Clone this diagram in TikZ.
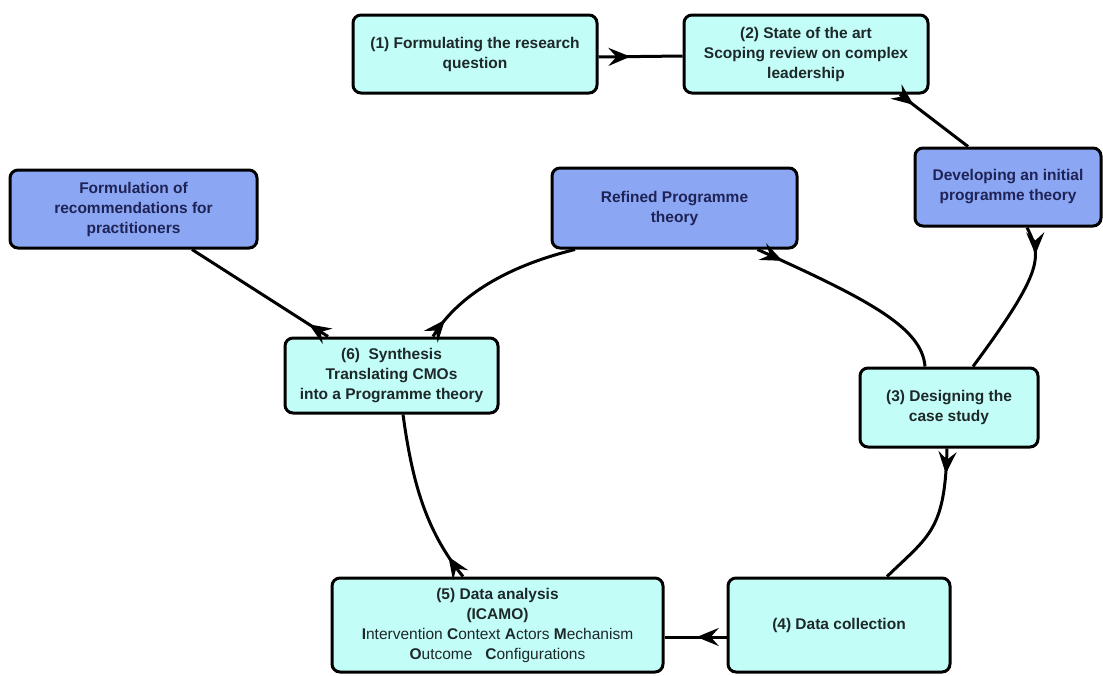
\documentclass[tikz,border=0pt]{standalone}
\usepackage{fontspec}
\setmainfont{Liberation Sans}
\usetikzlibrary{arrows.meta,decorations.markings}

\definecolor{stepfill}{HTML}{C2FDF8}
\definecolor{theoryfill}{HTML}{8BA7F4}
\definecolor{steptext}{HTML}{1E2828}
\definecolor{theorytext}{HTML}{1F2255}

\tikzset{
  box/.style={draw=black, line width=3pt, rounded corners=8pt, align=center,
    inner sep=0pt, font=\fontsize{15.5pt}{20pt}\selectfont\bfseries},
  stepbox/.style={box, fill=stepfill, text=steptext},
  theorybox/.style={box, fill=theoryfill, text=theorytext},
  link/.style={draw=black, line width=3pt},
  tipat/.style={postaction={decorate, decoration={markings,
    mark=at position #1 with {\arrow{Stealth[length=22pt,width=18pt,inset=8pt]}}}}}
}

\begin{document}
\begin{tikzpicture}[x=1pt, y=-1pt]
  \clip (0,0) rectangle (1103,675);
  \fill[white] (0,0) rectangle (1103,675);

  % process steps
  \node[stepbox, minimum width=244pt, minimum height=78pt] (s1) at (475,54)
    {(1) Formulating the research\\question};
  \node[stepbox, minimum width=244pt, minimum height=78pt] (s2) at (806,54)
    {(2) State of the art\\Scoping review on complex\\leadership};
  \node[theorybox, minimum width=186pt, minimum height=78pt] (init) at (1008,187)
    {Developing an initial\\programme theory};
  \node[theorybox, minimum width=245pt, minimum height=80pt] (refined) at (674.5,208)
    {Refined Programme\\theory};
  \node[theorybox, minimum width=247pt, minimum height=78pt] (recom) at (133.5,209)
    {Formulation of\\recommendations for\\practitioners};
  \node[stepbox, minimum width=178pt, minimum height=79pt] (s3) at (949,407.5)
    {(3) Designing the\\case study};
  \node[stepbox, minimum width=213pt, minimum height=75pt] (s6) at (391.5,375.5)
    {(6)\ \ Synthesis\\Translating CMOs\\into a Programme theory};
  \node[stepbox, minimum width=222pt, minimum height=94pt] (s4) at (839,625)
    {(4) Data collection};
  \node[stepbox, minimum width=331pt, minimum height=94pt, font=\fontsize{15.5pt}{20pt}\selectfont] (s5) at (497.5,625)
    {\textbf{(5) Data analysis}\\\textbf{(ICAMO)}\\
     \textbf{I}ntervention \textbf{C}ontext \textbf{A}ctors \textbf{M}echanism\\
     \textbf{O}utcome\ \ \ \textbf{C}onfigurations};

  % connectors
  \draw[link, tipat=0.38] ([yshift=-3pt]s1.east) -- ([yshift=-2pt]s2.west);
  \draw[link, tipat=0.2] ([xshift=94pt]s2.south) -- ([xshift=-40pt]init.north);
  \draw[link, tipat=0.18] ([xshift=19pt]init.south)
    .. controls (1041,256) and (1046,268) .. ([xshift=24pt]s3.north);
  \draw[link, tipat=0.13] ([xshift=83pt]refined.south)
    .. controls (870,300) and (922,328) .. ([xshift=-24pt]s3.north);
  \draw[link, tipat=0.17] ([xshift=-2pt]s3.south)
    .. controls (945,530) and (930,535) .. ([xshift=48pt]s4.north);
  \draw[link, tipat=0.48] ([yshift=-12pt]s4.west) -- ([yshift=-12pt]s5.east);
  \draw[link, tipat=0.14] ([xshift=-34.5pt]s5.north)
    .. controls (425,530) and (412,480) .. ([xshift=11.5pt]s6.south);
  \draw[link, tipat=0.12] ([xshift=41.5pt]s6.north)
    .. controls (455,300) and (500,268) .. ([xshift=-99.5pt]refined.south);
  \draw[link, tipat=0.14] ([xshift=-63.5pt]s6.north) -- ([xshift=58.5pt]recom.south);
\end{tikzpicture}
\end{document}
